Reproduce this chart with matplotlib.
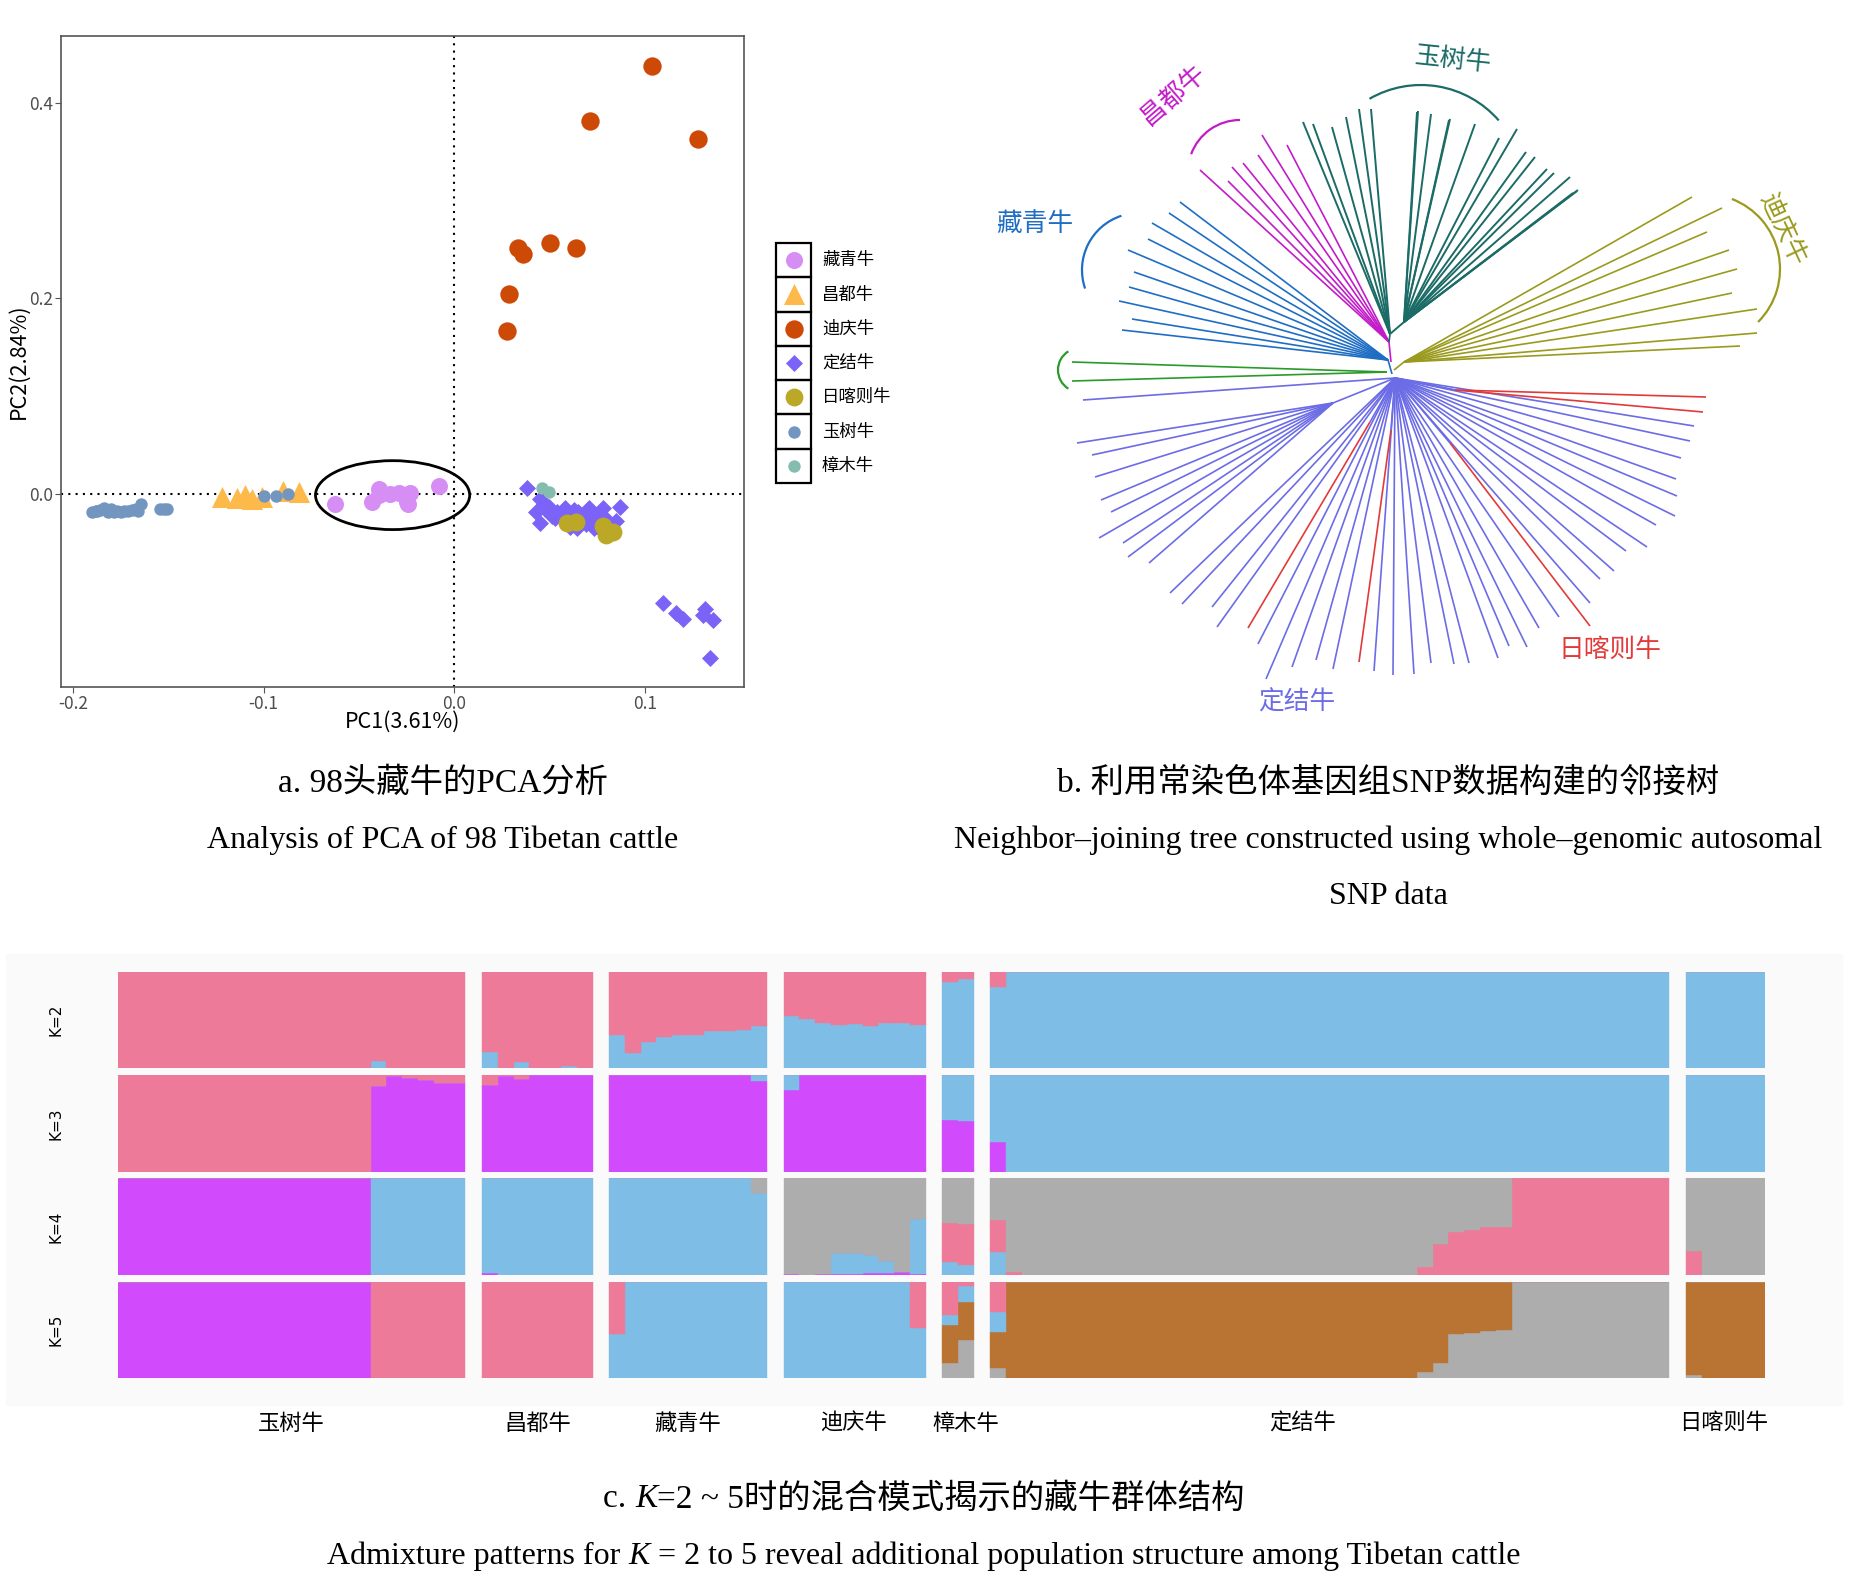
import matplotlib
matplotlib.use('Agg')
import matplotlib.pyplot as plt
from matplotlib.patches import Ellipse, Arc, Rectangle
from matplotlib.transforms import blended_transform_factory

plt.rcParams['font.family'] = ['Noto Sans CJK SC', 'DejaVu Sans']
plt.rcParams['axes.unicode_minus'] = False

W, H = 1851, 1592
serif = ['Liberation Serif', 'Noto Sans CJK SC']

# ---------------- a. PCA 数据 ----------------
pca_names = ['藏青牛', '昌都牛', '迪庆牛', '定结牛', '日喀则牛', '玉树牛', '樟木牛']
pca_colors = ['#d68ef5', '#fdb94a', '#cc4a06', '#7b63f7', '#bca827', '#7396c0', '#84bcb0']
pca_markers = ['o', '^', 'o', 'D', 'o', 'o', 'o']
pca_sizes = [150, 230, 175, 75, 165, 80, 80]

zangqing_pc1 = [-0.0623, -0.0430, -0.0392, -0.0336, -0.0247, -0.0234, -0.0081, -0.0395, -0.0290, -0.0240]
zangqing_pc2 = [-0.0096, -0.0082, 0.0048, 0.0005, -0.0082, 0.0014, 0.0087, -0.0010, 0.0010, -0.0100]
changdu_pc1 = [-0.1218, -0.1142, -0.1098, -0.1060, -0.1009, -0.0900, -0.0814]
changdu_pc2 = [-0.0030, -0.0040, -0.0010, -0.0050, -0.0030, 0.0030, 0.0020]
diqing_pc1 = [0.1038, 0.0714, 0.1281, 0.0333, 0.0359, 0.0501, 0.0641, 0.0290, 0.0277]
diqing_pc2 = [0.4376, 0.3807, 0.3624, 0.2511, 0.2458, 0.2564, 0.2511, 0.2043, 0.1663]
dingjie_pc1 = [0.0381, 0.0453, 0.0427, 0.0453, 0.0478, 0.0516, 0.0542, 0.0580, 0.0605, 0.0643,
               0.0669, 0.0707, 0.0732, 0.0745, 0.0783, 0.0796, 0.0847, 0.0872, 0.0620, 0.0750,
               0.0810, 0.0690, 0.0560, 0.0470, 0.0590, 0.0700, 0.0760, 0.0650, 0.0530, 0.0720,
               0.0630, 0.0680, 0.0770, 0.0500, 0.0610, 0.0740,
               0.1096, 0.1165, 0.1203, 0.1304, 0.1317, 0.1360, 0.1342]
dingjie_pc2 = [0.0063, -0.0048, -0.0178, -0.0299, -0.0154, -0.0227, -0.0178, -0.0145, -0.0227, -0.0347,
               -0.0275, -0.0145, -0.0347, -0.0251, -0.0145, -0.0251, -0.0275, -0.0130, -0.0300, -0.0330,
               -0.0320, -0.0310, -0.0200, -0.0100, -0.0260, -0.0200, -0.0190, -0.0180, -0.0240, -0.0290,
               -0.0160, -0.0230, -0.0280, -0.0130, -0.0340, -0.0210,
               -0.1108, -0.1214, -0.1272, -0.1239, -0.1176, -0.1287, -0.1672]
rikaze_pc1 = [0.0592, 0.0640, 0.0783, 0.0796, 0.0834]
rikaze_pc2 = [-0.0299, -0.0280, -0.0323, -0.0419, -0.0386]
yushu_pc1 = [-0.1899, -0.1874, -0.1836, -0.1818, -0.1785, -0.1747, -0.1709, -0.1670, -0.1658, -0.1645,
             -0.1543, -0.1505, -0.1860, -0.1800, -0.1770, -0.1690, -0.1880, -0.1730, -0.1520,
             -0.0997, -0.0933, -0.0870]
yushu_pc2 = [-0.0178, -0.0169, -0.0145, -0.0178, -0.0178, -0.0178, -0.0169, -0.0154, -0.0169, -0.0096,
             -0.0154, -0.0154, -0.0160, -0.0150, -0.0170, -0.0160, -0.0170, -0.0175, -0.0150,
             -0.0019, -0.0019, 0.0005]
zhangmu_pc1 = [0.0460, 0.0496]
zhangmu_pc2 = [0.0063, 0.0024]

pc1_all = [zangqing_pc1, changdu_pc1, diqing_pc1, dingjie_pc1, rikaze_pc1, yushu_pc1, zhangmu_pc1]
pc2_all = [zangqing_pc2, changdu_pc2, diqing_pc2, dingjie_pc2, rikaze_pc2, yushu_pc2, zhangmu_pc2]

# ---------------- b. 邻接树 (相对根节点的坐标) ----------------
tree_colors = {'玉树牛': '#1b6b66', '昌都牛': '#c21cc9', '藏青牛': '#1f6ec4', '樟木牛': '#2a9a2a',
               '迪庆牛': '#9a9a1e', '定结牛': '#6c6ce6', '日喀则牛': '#e23a3a'}
yushu_tips_a = [(-89, 248), (-79, 246), (-60, 243), (-46, 253), (-33, 261), (-21, 261)]
yushu_tips_b = [(25, 258), (26, 259), (39, 256), (57, 250), (58, 251), (83, 246), (107, 232),
                (125, 241), (134, 218), (143, 213), (155, 201), (162, 197), (178, 193), (185, 179),
                (186, 180), (181, 177)]
changdu_tips = [(-192, 200), (-164, 189), (-160, 203), (-149, 207), (-134, 215), (-130, 235), (-105, 225)]
zangqing_tips = [(-212, 168), (-223, 157), (-240, 147), (-244, 131), (-264, 120), (-258, 98),
                 (-263, 83), (-273, 69), (-260, 51), (-270, 40)]
zhangmu_tips = [(-320, 8), (-320, -11)]
diqing_tips = [(300, 173), (330, 162), (315, 138), (337, 120), (345, 101), (340, 77), (365, 61),
               (365, 37), (348, 24)]
dingjie_tips = [(-309, -30), (-222, -223), (-210, -234), (-180, -237), (-175, -257), (-134, -274),
                (-126, -309), (-100, -297), (-76, -290), (-59, -299), (-18, -301), (1, -305),
                (302, -56), (298, -71), (289, -88), (284, -109), (285, -126), (283, -146), (264, -155),
                (255, -177), (234, -181), (222, -201), (208, -209), (198, -233), (167, -247),
                (147, -258), (135, -277), (117, -276), (106, -288), (77, -293), (62, -294), (39, -293),
                (22, -304)]
dingjie_sub_tips = [(-315, -73), (-300, -85), (-297, -107), (-291, -130), (-281, -142), (-293, -168),
                    (-269, -173), (-264, -187), (-243, -193)]
rikaze_start = [(-22, -52), (-1, -60), (63, -20), (63, -20), (58, -73)]
rikaze_tips = [(-144, -258), (-33, -292), (314, -27), (311, -42), (198, -256)]

# 分组弧线: 中心x, 中心y, 半径, 起始角, 终止角
clade_arcs = {'玉树牛': (29, 182, 103, 41, 120), '昌都牛': (-152, 198, 52, 90, 160),
              '藏青牛': (-253, 100, 57, 108, 199), '樟木牛': (-312, 0, 22, 122, 238),
              '迪庆牛': (313, 101, 75, -45, 69)}
# 标签: x, y, 旋转角
clade_labels = {'玉树牛': (61, 310, -6), '昌都牛': (-219, 275, 41), '藏青牛': (-357, 146, 0),
                '迪庆牛': (391, 140, -65), '日喀则牛': (218, -280, 0), '定结牛': (-95, -333, 0)}

# ---------------- c. ADMIXTURE ----------------
groups = ['玉树牛', '昌都牛', '藏青牛', '迪庆牛', '樟木牛', '定结牛', '日喀则牛']
group_sizes = [22, 7, 10, 9, 2, 43, 5]
group_label_x = [11.0, 26.6, 36.1, 46.6, 53.7, 75.0, 101.7]
c_pink, c_blue, c_purple, c_gray, c_brown = '#ec7a98', '#7dbde6', '#d14bfd', '#adadad', '#b97333'

k2_blue = ([0] * 16 + [0.076] + [0] * 5 +
           [0.17, 0, 0.066, 0.005, 0, 0.028, 0] +
           [0.345, 0.155, 0.276, 0.32, 0.345, 0.345, 0.386, 0.39, 0.397, 0.438] +
           [0.545, 0.507, 0.472, 0.448, 0.455, 0.438, 0.472, 0.472, 0.448] +
           [0.897, 0.924] +
           [0.838] + [1] * 42 +
           [1] * 5)

k3_purple = ([0] * 16 + [0.89, 0.99, 0.972, 0.948, 0.921, 0.921] +
             [0.897, 0.993, 0.959, 1, 1, 1, 1] +
             [1] * 9 + [0.938] +
             [0.845] + [1] * 8 +
             [0.534, 0.524] +
             [0.31] + [0] * 42 +
             [0] * 5)
k3_blue = ([0] * 22 + [0] * 7 + [0] * 9 + [0.062] + [0.155] + [0] * 8 + [0.466, 0.476] +
           [0.69] + [1] * 42 + [1] * 5)

k4_purple = ([1] * 16 + [0.005, 0, 0, 0, 0, 0] +
             [0.02, 0, 0, 0, 0, 0, 0] +
             [0] * 10 +
             [0.01, 0, 0.01, 0.01, 0.015, 0.02, 0.025, 0.034, 0.01] +
             [0, 0] + [0] * 43 + [0] * 5)
k4_blue = ([0] * 16 + [0.995, 1, 1, 1, 1, 1] +
           [0.98, 1, 1, 1, 1, 1, 1] +
           [1] * 9 + [0.845] +
           [0, 0, 0, 0.214, 0.209, 0.187, 0.123, 0, 0.566] +
           [0.138, 0.103] +
           [0.234] + [0] * 42 +
           [0] * 5)
k4_pink = ([0] * 22 + [0] * 7 + [0] * 10 + [0] * 9 +
           [0.403, 0.424] +
           [0.334, 0.028] + [0] * 25 + [0.086, 0.317, 0.441, 0.466, 0.493, 0.5] + [1] * 10 +
           [0.248, 0, 0, 0, 0])

k5_purple = [1] * 16 + [0] * 6 + [0] * 76
k5_gray = ([0] * 22 + [0] * 7 + [0] * 10 + [0] * 9 +
           [0.155, 0.40] +
           [0.11] + [0] * 26 + [0.062, 0.155, 0.455, 0.472, 0.49, 0.5] + [1] * 10 +
           [0.03, 0, 0, 0, 0])
k5_brown = ([0] * 22 + [0] * 7 + [0] * 10 + [0] * 9 +
            [0.40, 0.385] +
            [0.372] + [1] * 26 + [0.938, 0.845, 0.545, 0.528, 0.51, 0.5] + [0] * 10 +
            [0.97, 1, 1, 1, 1])
k5_blue = ([0] * 22 + [0] * 7 +
           [0.455] + [1] * 9 +
           [1] * 8 + [0.517] +
           [0.10, 0.17] +
           [0.207] + [0] * 42 +
           [0] * 5)


def rest(*parts):
    return [1 - sum(v) for v in zip(*parts)]


k_rows = [
    ('K=2', [(k2_blue, c_blue), (rest(k2_blue), c_pink)]),
    ('K=3', [(k3_purple, c_purple), (k3_blue, c_blue), (rest(k3_purple, k3_blue), c_pink)]),
    ('K=4', [(k4_purple, c_purple), (k4_blue, c_blue), (k4_pink, c_pink),
             (rest(k4_purple, k4_blue, k4_pink), c_gray)]),
    ('K=5', [(k5_purple, c_purple), (k5_gray, c_gray), (k5_brown, c_brown), (k5_blue, c_blue),
             (rest(k5_purple, k5_gray, k5_brown, k5_blue), c_pink)]),
]

fig = plt.figure(figsize=(W / 100, H / 100), dpi=100)


def px_axes(x0, y0, x1, y1):
    return fig.add_axes([x0 / W, 1 - y1 / H, (x1 - x0) / W, (y1 - y0) / H])


# ---- a ----
ax = px_axes(61, 36, 744, 687)
for xs, ys, c, m, s in zip(pc1_all, pc2_all, pca_colors, pca_markers, pca_sizes):
    ax.scatter(xs, ys, s=s, c=c, marker=m, linewidths=0, zorder=3)
ax.axvline(0, color='black', ls=(0, (1, 2.5)), lw=1.5, zorder=1)
ax.axhline(0, color='black', ls=(0, (1, 2.5)), lw=1.5, zorder=1)
ax.add_patch(Ellipse((-0.0323, -0.001), 0.0809, 0.0704, fill=False, lw=2, ec='black', zorder=4))
ax.set_xlim(-0.2063, 0.1521)
ax.set_ylim(-0.197, 0.468)
ax.set_xticks([-0.2, -0.1, 0.0, 0.1])
ax.set_xticklabels(['-0.2', '-0.1', '0.0', '0.1'])
ax.set_yticks([0.0, 0.2, 0.4])
ax.set_yticklabels(['0.0', '0.2', '0.4'])
ax.tick_params(colors='#555555', labelcolor='#4d4d4d', labelsize=12.5, length=4, pad=2)
for sp in ax.spines.values():
    sp.set_color('#555555')
    sp.set_linewidth(1.2)
ax.set_xlabel('PC1(3.61%)', fontsize=15.5, labelpad=-2)
ax.set_ylabel('PC2(2.84%)', fontsize=15.5, labelpad=-1)

# 图例
lg = px_axes(776, 243, 900, 483)
lg.set_xlim(0, 124)
lg.set_ylim(240, 0)
lg.axis('off')
hk = 240 / 7
for i, (name, c, m, s) in enumerate(zip(pca_names, pca_colors, pca_markers, pca_sizes)):
    lg.add_patch(Rectangle((0, i * hk), 35, hk, fill=False, ec='black', lw=1.6, clip_on=False))
    lg.scatter([17.5], [(i + 0.5) * hk], s=s, c=c, marker=m, linewidths=0, clip_on=False)
    lg.text(46, (i + 0.5) * hk, name, fontsize=12.5, va='center', ha='left')

# ---- b ----
tr = px_axes(1000, 0, 1851, 760)
tr.set_xlim(-392, 459)
tr.set_ylim(-390, 370)
tr.axis('off')


def branches(node, tips, color, lw=1.2):
    for x, y in tips:
        tr.plot([node[0], x], [node[1], y], color=color, lw=lw, solid_capstyle='butt')


branches((-1, 8), [(-3, 28)], tree_colors['昌都牛'])
branches((-3, 28), changdu_tips, tree_colors['昌都牛'])
branches((-3, 28), [(-2, 36)], tree_colors['玉树牛'])
branches((-2, 36), yushu_tips_a, tree_colors['玉树牛'], 1.4)
branches((-2, 36), [(12, 48)], tree_colors['玉树牛'], 1.4)
branches((12, 48), yushu_tips_b, tree_colors['玉树牛'], 1.4)
branches((-4, 10), zangqing_tips, tree_colors['藏青牛'])
branches((-4, 10), [(0, -4)], tree_colors['藏青牛'])
branches((-5, -2), zhangmu_tips, tree_colors['樟木牛'])
branches((2, 0), [(12, 8)], tree_colors['迪庆牛'])
branches((12, 8), diqing_tips, tree_colors['迪庆牛'])
branches((3, -8), dingjie_tips, tree_colors['定结牛'])
branches((3, -8), [(-59, -33)], tree_colors['定结牛'])
branches((-59, -33), dingjie_sub_tips, tree_colors['定结牛'])
for s, t in zip(rikaze_start, rikaze_tips):
    branches((3, -8), [s], tree_colors['定结牛'])
    branches(s, [t], tree_colors['日喀则牛'])

for name, (cx, cy, r, t1, t2) in clade_arcs.items():
    tr.add_patch(Arc((cx, cy), 2 * r, 2 * r, theta1=t1, theta2=t2, color=tree_colors[name], lw=1.6))
for name, (x, y, rot) in clade_labels.items():
    tr.text(x, y, name, color=tree_colors[name], fontsize=18.5, rotation=rot,
            ha='center', va='center', rotation_mode='anchor')

# ---- c ----
fig.add_artist(Rectangle((6 / W, 1 - 1405 / H), 1836 / W, 451 / H, transform=fig.transFigure,
                         color='#fafafa', zorder=-5))
gap = 1.05
xpos = []
i0 = 0
for g, n in enumerate(group_sizes):
    xpos += [i0 + k + g * gap for k in range(n)]
    i0 += n
row_tops = [971.7, 1075.0, 1178.3, 1281.7]
row_h = 96.7
for (klab, comps), top in zip(k_rows, row_tops):
    a = px_axes(118, top, 1765, top + row_h)
    bottom = [0.0] * len(xpos)
    for vals, col in comps:
        a.bar(xpos, vals, width=1.0, bottom=bottom, color=col, align='edge',
              edgecolor=col, linewidth=0.3)
        bottom = [b + v for b, v in zip(bottom, vals)]
    a.set_xlim(xpos[0], xpos[-1] + 1)
    a.set_ylim(0, 1)
    a.axis('off')
    fig.text(56 / W, 1 - (top + row_h / 2) / H, klab, rotation=90, fontsize=11,
             family='DejaVu Sans', ha='center', va='center')
trans = blended_transform_factory(a.transData, fig.transFigure)
for g, xl in zip(groups, group_label_x):
    a.text(xl, 1 - 1423 / H, g, transform=trans, fontsize=16, ha='center', va='center')

# ---- 标题 ----
renderer = fig.canvas.get_renderer()


def caption(xc, yc, parts, size=23):
    items = [fig.text(0, 1 - yc / H, s, fontsize=size, family=serif, style=st,
                      ha='left', va='center') for s, st in parts]
    widths = [t.get_window_extent(renderer).width for t in items]
    x = xc - sum(widths) / 2
    for t, w in zip(items, widths):
        t.set_x(x / W)
        x += w


caption(443, 783, [('a. 98头藏牛的PCA分析', 'normal')], 24)
caption(443, 840, [('Analysis of PCA of 98 Tibetan cattle', 'normal')])
caption(1388, 783, [('b. 利用常染色体基因组SNP数据构建的邻接树', 'normal')], 24)
caption(1388, 840, [('Neighbor–joining tree constructed using whole–genomic autosomal', 'normal')])
caption(1388, 896, [('SNP data', 'normal')])
caption(924, 1499, [('c. ', 'normal'), ('K', 'italic'), ('=2 ~ 5时的混合模式揭示的藏牛群体结构', 'normal')], 24)
caption(924, 1556, [('Admixture patterns for ', 'normal'), ('K', 'italic'),
                    (' = 2 to 5 reveal additional population structure among Tibetan cattle', 'normal')])

fig.savefig('out.png', dpi=100)
